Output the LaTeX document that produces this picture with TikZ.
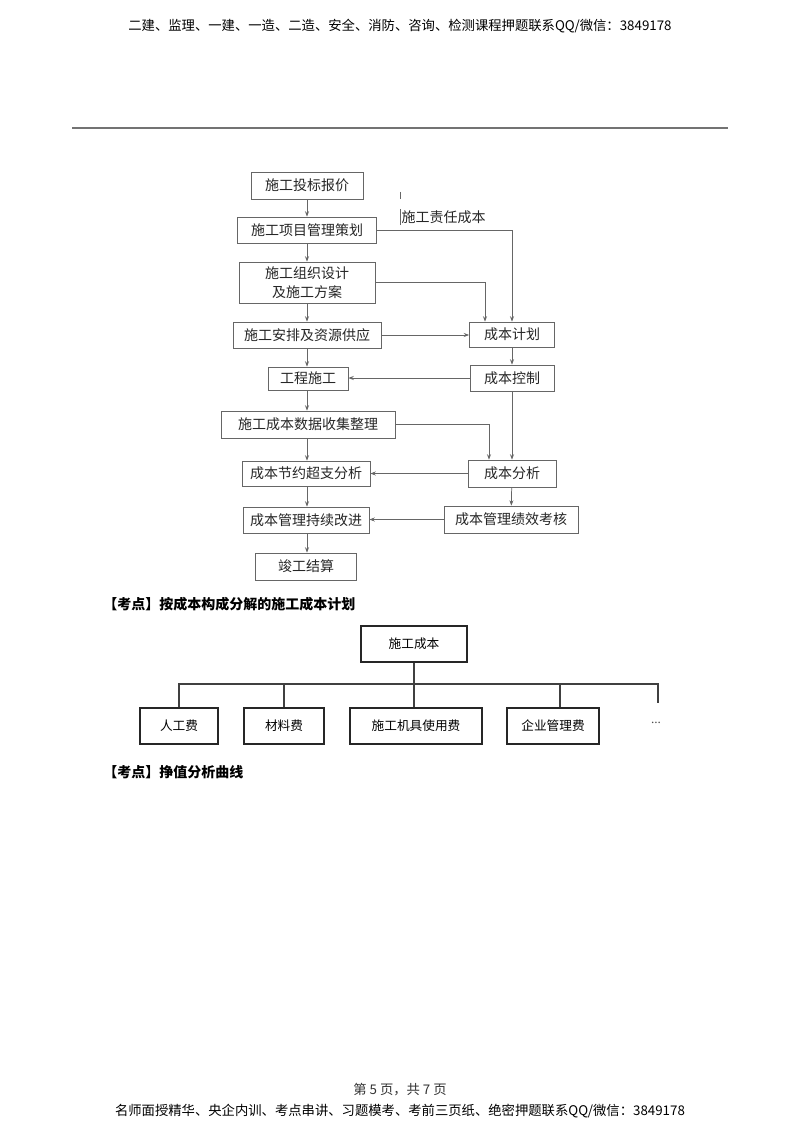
\documentclass[tikz,border=0pt]{standalone}
\usepackage{fontspec}
\setmainfont{Liberation Serif}
\newfontfamily\cjk{Noto Sans CJK SC}
\usepackage{tikz}
\usetikzlibrary{calc,arrows.meta}

\begin{document}
\begin{tikzpicture}[x=0.75pt, y=-0.75pt, >={Stealth[length=4pt,width=3pt]},
	flowbox/.style={draw=black!60, text=black!85, line width=0.6pt, inner sep=0pt, align=center, font=\cjk\fontsize{10.5pt}{14pt}\selectfont},
	flowline/.style={draw=black!60, line width=0.55pt},
	orgbox/.style={draw=black!85, line width=0.9pt, inner sep=0pt, minimum height=27pt, font=\cjk\fontsize{9.5pt}{12pt}\selectfont},
	orgline/.style={draw=black!75, line width=0.9pt},
	kaodian/.style={anchor=west, inner sep=0pt, font=\cjk\bfseries\fontsize{10.5pt}{12pt}\selectfont}]
\useasboundingbox (0,0) rectangle (800,1132);
\fill[white] (0,0) rectangle (800,1132);

\node[font=\cjk\fontsize{10pt}{12pt}\selectfont] (hd) at (400,26) {二建、监理、一建、一造、二造、安全、消防、咨询、检测课程押题联系QQ/微信：3849178};
			\draw[black!55, line width=1.1pt] (72,128) -- (728,128);

			\foreach \nm/\cx/\cy/\w/\h/\txt in
			{tb/307/185.5/112/27/施工投标报价, xm/307/230/139/26/施工项目管理策划, zz/307/282.5/136/41/施工组织设计\\及施工方案,
			ap/307/335/148/26/施工安排及资源供应, gc/308/378.5/80/23/工程施工, sj/308/424.5/174/27/施工成本数据收集整理,
			jy/306/473.5/128/25/成本节约超支分析, gj/306/520/126/26/成本管理持续改进, js/306/566.5/101/27/竣工结算,
			jh/512/334.5/85/25/成本计划, kz/512/378/84/26/成本控制, fx/512/473.5/88/27/成本分析, kh/511/519.5/134/27/成本管理绩效考核} {
\node[flowbox, minimum width=\w*0.75pt, minimum height=\h*0.75pt] (\nm) at (\cx,\cy) {\txt};
			}

			\foreach \a/\b in {tb/xm, xm/zz, zz/ap, ap/gc, gc/sj, sj/jy, jy/gj, gj/js} {
\draw[flowline, ->] (\a.south -| tb) -- (\b.north -| tb);
			}

\node[anchor=west, inner sep=1pt, text=black!85, font=\cjk\fontsize{10.5pt}{13pt}\selectfont] (zr) at (400,217) {施工责任成本};
			\draw[flowline] (zr.south west) -- (zr.north west);
			\draw[flowline] ($(zr.north west)+(0,-17)$) -- ++(0,7);

			\coordinate (jhA) at ($(jh.north)+(-27,0)$);
			\coordinate (fxA) at ($(fx.north)+(-23,0)$);
\draw[flowline, ->] (xm.east) -| (jh.north);
\draw[flowline, ->] (zz.east) -| (jhA);
\draw[flowline, ->] (ap.east) -- (ap.east -| jh.west);
\draw[flowline, ->] (jh) -- (kz);
\draw[flowline, ->] (kz.west) -- (kz.west -| gc.east);
\draw[flowline, ->] (kz) -- (fx);
\draw[flowline, ->] (sj.east) -| (fxA);
\draw[flowline, ->] (fx.west) -- (fx.west -| jy.east);
\draw[flowline, ->] (fx) -- (kh);
\draw[flowline, ->] (kh.west) -- (kh.west -| gj.east);

\node[kaodian] (kd1) at (103,604) {【考点】按成本构成分解的施工成本计划};

			\node[orgbox, minimum width=79.5pt] (cb) at (414,644) {施工成本};
			\foreach \nm/\cx/\w/\txt in {rg/179/78/人工费, cl/284/80/材料费, jj/416/132/施工机具使用费, qy/553/92/企业管理费} {
\node[orgbox, minimum width=\w*0.75pt] (\nm) at (\cx,726) {\txt};
			}
			\node[font=\fontsize{10pt}{12pt}\selectfont, text=black!70] (dd) at (656,723) {...};

			\coordinate (bus) at (414,684);
			\coordinate (more) at (658,703);
			\coordinate (qytop) at ($(qy.north)+(7,0)$);
\draw[orgline] (cb.south) -- (cb.south |- jj.north);
\draw[orgline] (rg.north) -- (rg.north |- bus) -- (more |- bus) -- (more);
\draw[orgline] (cl.north) -- (cl.north |- bus);
\draw[orgline] (qytop) -- (qytop |- bus);

\node[kaodian] (kd2) at (103,772) {【考点】挣值分析曲线};

			\node[font=\cjk\fontsize{10pt}{12pt}\selectfont, text=black!80] (pg) at (400,1090) {第 5 页，共 7 页};
			\node[font=\cjk\fontsize{10pt}{12pt}\selectfont] (ft) at (400,1111) {名师面授精华、央企内训、考点串讲、习题模考、考前三页纸、绝密押题联系QQ/微信：3849178};
		\end{tikzpicture}
\end{document}
